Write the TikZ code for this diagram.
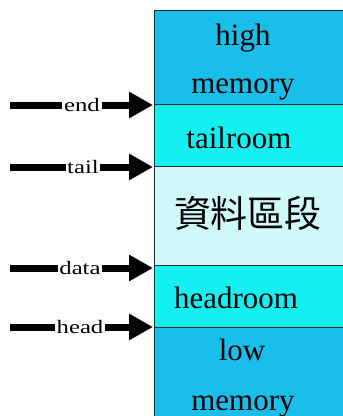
\documentclass[tikz,border=0pt]{standalone}
\usepackage{fontspec}
\setmainfont{Liberation Serif}
\newfontfamily\lblfont[FakeStretch=1.3]{Liberation Serif}
\newfontfamily\cjk{Noto Sans CJK TC}
\usetikzlibrary{arrows.meta}
\definecolor{memblue}{RGB}{25,190,235}
\definecolor{roomcyan}{RGB}{20,240,242}
\definecolor{datacyan}{RGB}{208,250,250}
\begin{document}
\begin{tikzpicture}[x=1pt,y=-1pt,
  region/.style={draw=black!85, line width=0.9pt},
  boxtext/.style={font=\fontsize{31}{31}\selectfont, inner sep=0pt, anchor=base},
  ptrlabel/.style={font=\lblfont\fontsize{19}{19}\selectfont, inner sep=1.5pt, anchor=base},
  ptrline/.style={line width=7pt},
  ptrarrow/.style={line width=7pt, -{Triangle[length=24pt,width=25pt]}}]
\useasboundingbox (0,0) rectangle (343,416);
\fill[white] (0,0) rectangle (343,416);
\clip (0,0) rectangle (343,416);
% memory regions
\filldraw[region, fill=memblue]   (154,10)  rectangle (360,104);
\filldraw[region, fill=roomcyan]  (154,104) rectangle (360,166);
\filldraw[region, fill=datacyan]  (154,166) rectangle (360,265);
\filldraw[region, fill=roomcyan]  (154,265) rectangle (360,327);
\filldraw[region, fill=memblue]   (154,327) rectangle (360,430);
% region texts
\node[boxtext] (high) at (243,45) {high};
\node[boxtext] (mem1) at (243,93) {memory};
\node[boxtext] (tailroom) at (239,148) {tailroom};
\node[inner sep=0pt, font=\cjk\fontsize{37}{37}\selectfont] (data) at (248,213) {資料區段};
\node[boxtext] (headroom) at (236,308) {headroom};
\node[boxtext] (low) at (242,360) {low};
\node[boxtext] (mem2) at (243,410) {memory};
% pointers
\coordinate (e0) at (10,105);  \coordinate (e1) at (153,105);
\coordinate (t0) at (10,167);  \coordinate (t1) at (153,167);
\coordinate (d0) at (10,268);  \coordinate (d1) at (153,268);
\coordinate (h0) at (10,327);  \coordinate (h1) at (153,327);
\node[ptrlabel] (endl)  at (82,111) {end};
\node[ptrlabel] (taill) at (83,173) {tail};
\node[ptrlabel] (datal) at (80,274) {data};
\node[ptrlabel] (headl) at (80,333) {head};
\draw[ptrline]  (e0) -- (endl.west |- e0);
\draw[ptrarrow] (endl.east |- e0) -- (e1);
\draw[ptrline]  (t0) -- (taill.west |- t0);
\draw[ptrarrow] (taill.east |- t0) -- (t1);
\draw[ptrline]  (d0) -- (datal.west |- d0);
\draw[ptrarrow] (datal.east |- d0) -- (d1);
\draw[ptrline]  (h0) -- (headl.west |- h0);
\draw[ptrarrow] (headl.east |- h0) -- (h1);
\end{tikzpicture}
\end{document}
